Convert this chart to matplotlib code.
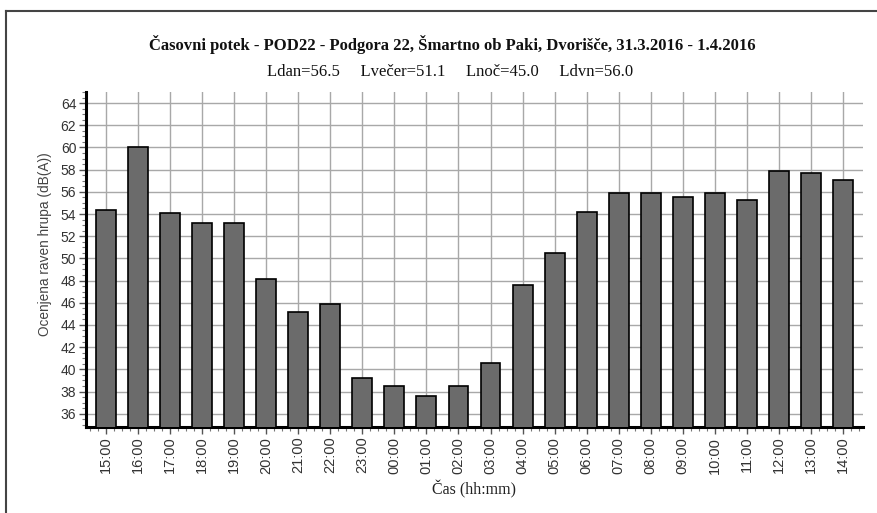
import matplotlib
matplotlib.use("Agg")
import matplotlib.pyplot as plt
from matplotlib.ticker import MultipleLocator
import numpy as np

hours = ["15:00", "16:00", "17:00", "18:00", "19:00", "20:00", "21:00", "22:00",
         "23:00", "00:00", "01:00", "02:00", "03:00", "04:00", "05:00", "06:00",
         "07:00", "08:00", "09:00", "10:00", "11:00", "12:00", "13:00", "14:00"]
levels = [54.4, 60.0, 54.1, 53.2, 53.2, 48.1, 45.2, 45.9,
          39.2, 38.5, 37.6, 38.5, 40.6, 47.6, 50.5, 54.2,
          55.9, 55.9, 55.5, 55.9, 55.3, 57.9, 57.7, 57.1]
y_ticks = list(range(36, 65, 2))

title = "Časovni potek - POD22 - Podgora 22, Šmartno ob Paki, Dvorišče, 31.3.2016 - 1.4.2016"
subtitle = "Ldan=56.5     Lvečer=51.1     Lnoč=45.0     Ldvn=56.0"

fig = plt.figure(figsize=(8.77, 5.13), dpi=100)
ax = fig.add_axes([86/877, 1 - 427/513, (863 - 86)/877, (427 - 92)/513])

x = np.arange(len(hours))
ax.bar(x, levels, width=0.62, bottom=0, color="#6b6b6b", edgecolor="black",
       linewidth=1.2, zorder=3)

ax.set_xlim(-0.62, len(hours) - 1 + 0.62)
ax.set_ylim(34.8, 65.0)
ax.set_yticks(y_ticks)
ax.yaxis.set_minor_locator(MultipleLocator(0.5))
ax.set_xticks(x)
ax.set_xticklabels(hours, rotation=90, family="Liberation Sans", fontsize=10.5, color="#333333")
ax.xaxis.set_minor_locator(MultipleLocator(0.25))
for lab in ax.get_yticklabels():
    lab.set_family("Liberation Sans")
    lab.set_fontsize(10)
    lab.set_color("#333333")

ax.grid(True, which="major", color="#a8a8a8", linewidth=1.0, zorder=0)
ax.set_axisbelow(True)
for s in ["top", "right"]:
    ax.spines[s].set_visible(False)
ax.spines["left"].set_linewidth(2.2)
ax.spines["bottom"].set_linewidth(2.2)
ax.tick_params(axis="both", which="major", length=5, width=1, color="#555555", pad=2)
ax.tick_params(axis="both", which="minor", length=3, width=0.8, color="#777777")

fig.text(45/877, 1 - 244/513, "Ocenjena raven hrupa (dB(A))", rotation=90,
         ha="center", va="center", family="Liberation Sans", fontsize=9.8, color="#444444")
fig.text(474/877, 1 - 489/513, "Čas (hh:mm)", ha="center", va="center",
         family="Liberation Serif", fontsize=11.5, color="#222222")

fig.text(452/877, 1 - 45/513, title, ha="center", va="center",
         family="Liberation Serif", fontweight="bold", fontsize=12, color="#111111")
fig.text(450/877, 1 - 72/513, subtitle, ha="center", va="center",
         family="Liberation Serif", fontsize=12, color="#111111")

# outer frame lines (top and left)
fig.add_artist(plt.Line2D([6/877, 1.0], [1 - 11/513, 1 - 11/513], transform=fig.transFigure,
                          color="#444444", linewidth=1.5))
fig.add_artist(plt.Line2D([6/877, 6/877], [1 - 11/513, 0.0], transform=fig.transFigure,
                          color="#444444", linewidth=1.5))

fig.savefig("out.png", dpi=100)
